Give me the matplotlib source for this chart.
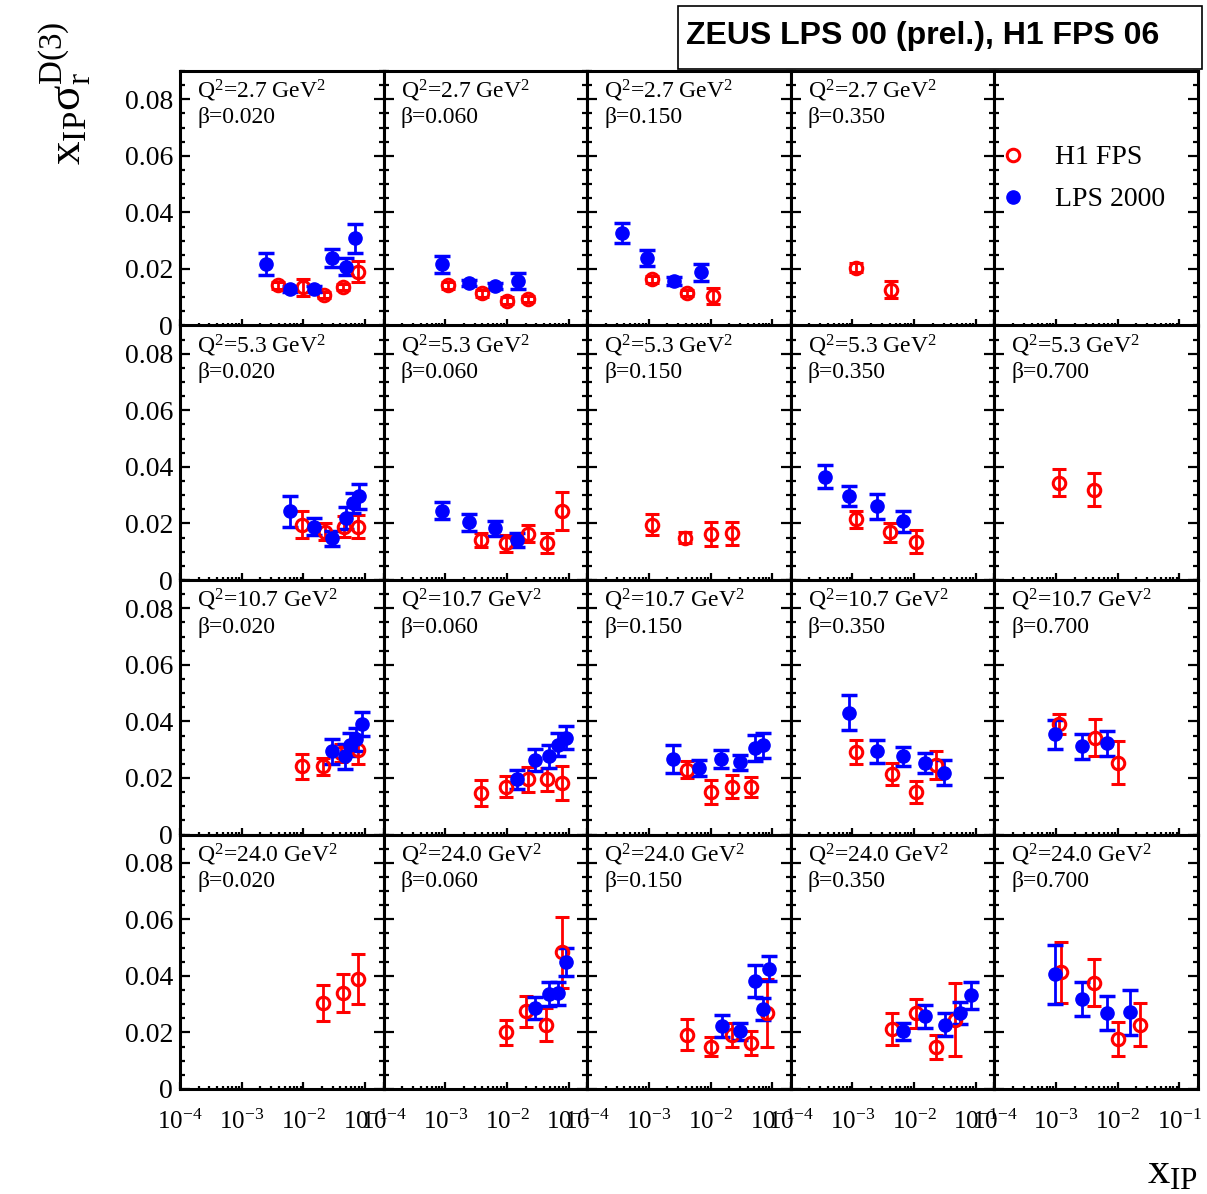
import matplotlib
matplotlib.use("Agg")
import matplotlib.pyplot as plt
from matplotlib.lines import Line2D
from matplotlib.patches import Rectangle
from matplotlib.ticker import MultipleLocator, LogLocator, NullFormatter, FuncFormatter

plt.rcParams.update({
    "font.family": ["Liberation Serif", "DejaVu Serif"],
    "mathtext.fontset": "custom",
    "mathtext.rm": "Liberation Serif",
    "mathtext.it": "Liberation Serif:italic",
    "mathtext.bf": "Liberation Serif:bold",
})

q2_labels = ["2.7", "5.3", "10.7", "24.0"]
beta_labels = ["0.020", "0.060", "0.150", "0.350", "0.700"]

# H1 FPS points, one list per beta column: (x_IP, x_IP*sigma_r, error)
h1_q2_2p7 = [
    [(3.9e-3, 0.0142, 0.0012), (9.8e-3, 0.0136, 0.003), (0.022, 0.0108, 0.0012),
     (0.044, 0.0136, 0.0012), (0.077, 0.019, 0.0037)],
    [(1.1e-3, 0.0142, 0.0012), (3.9e-3, 0.0114, 0.0012), (0.010, 0.0088, 0.0012),
     (0.0216, 0.0094, 0.0012)],
    [(1.13e-3, 0.0163, 0.0012), (4.1e-3, 0.0115, 0.0012), (0.011, 0.0104, 0.0028)],
    [(1.13e-3, 0.0205, 0.0015), (4.2e-3, 0.0126, 0.003)],
    [],
]
h1_q2_5p3 = [
    [(9.5e-3, 0.0195, 0.0048), (0.0221, 0.0171, 0.003), (0.0457, 0.0189, 0.0036),
     (0.0775, 0.0189, 0.004)],
    [(3.8e-3, 0.0142, 0.0025), (9.6e-3, 0.013, 0.003), (0.0217, 0.0163, 0.003),
     (0.0449, 0.013, 0.0035), (0.078, 0.0243, 0.0067)],
    [(1.14e-3, 0.0195, 0.0037), (3.9e-3, 0.015, 0.002), (0.0102, 0.0163, 0.0043),
     (0.0222, 0.0165, 0.004)],
    [(1.14e-3, 0.0215, 0.003), (4.1e-3, 0.0168, 0.0034), (0.0108, 0.0136, 0.0042)],
    [(1.1e-3, 0.0344, 0.0047), (4.16e-3, 0.032, 0.0057)],
]
h1_q2_10p7 = [
    [(9.5e-3, 0.0241, 0.0043), (0.0211, 0.0241, 0.003), (0.0407, 0.0288, 0.0033),
     (0.0775, 0.030, 0.005)],
    [(3.8e-3, 0.0148, 0.0046), (9.6e-3, 0.0169, 0.0038), (0.0217, 0.0195, 0.0043),
     (0.045, 0.0195, 0.004), (0.078, 0.0181, 0.006)],
    [(4.1e-3, 0.0229, 0.003), (0.0102, 0.0151, 0.0042), (0.0222, 0.0169, 0.004),
     (0.0455, 0.0169, 0.0036)],
    [(1.14e-3, 0.0291, 0.0043), (4.33e-3, 0.0215, 0.0039), (0.0106, 0.0151, 0.0038),
     (0.0223, 0.0247, 0.005)],
    [(1.12e-3, 0.039, 0.0036), (4.2e-3, 0.0342, 0.0065), (0.010, 0.0253, 0.0076)],
]
h1_q2_24 = [
    [(0.0211, 0.0305, 0.0064), (0.0437, 0.034, 0.0068), (0.0775, 0.039, 0.0089)],
    [(9.6e-3, 0.020, 0.0043), (0.0207, 0.0275, 0.0054), (0.0427, 0.0228, 0.006),
     (0.078, 0.0483, 0.0125)],
    [(4.1e-3, 0.0192, 0.0054), (0.0102, 0.015, 0.0034), (0.0222, 0.0192, 0.0043),
     (0.0455, 0.0162, 0.0043), (0.083, 0.0269, 0.012)],
    [(4.33e-3, 0.0212, 0.0055), (0.0106, 0.0267, 0.0053), (0.0223, 0.0148, 0.0043),
     (0.046, 0.0245, 0.013)],
    [(1.2e-3, 0.0412, 0.0107), (4.06e-3, 0.0376, 0.0083), (0.010, 0.0176, 0.006),
     (0.023, 0.0228, 0.0075)],
]

# ZEUS LPS 2000 points
lps_q2_2p7 = [
    [(2.46e-3, 0.0217, 0.004), (6.1e-3, 0.013, 0.001), (0.0151, 0.0128, 0.001),
     (0.0295, 0.0239, 0.0033), (0.050, 0.0207, 0.003), (0.068, 0.0308, 0.005)],
    [(8.9e-4, 0.0217, 0.003), (2.45e-3, 0.015, 0.001), (6.45e-3, 0.0139, 0.001),
     (0.0149, 0.0157, 0.0028)],
    [(3.7e-4, 0.0326, 0.0036), (9.2e-4, 0.0239, 0.0029), (2.56e-3, 0.0157, 0.0015),
     (6.9e-3, 0.0189, 0.003)],
    [],
    [],
]
lps_q2_5p3 = [
    [(6.1e-3, 0.0243, 0.0054), (0.0147, 0.0189, 0.003), (0.0295, 0.0148, 0.0027),
     (0.049, 0.0219, 0.004), (0.0627, 0.0272, 0.0035), (0.079, 0.0296, 0.0045)],
    [(8.9e-4, 0.0245, 0.003), (2.46e-3, 0.0204, 0.003), (6.45e-3, 0.0183, 0.0027),
     (0.0148, 0.0142, 0.0024)],
    [],
    [(3.6e-4, 0.0365, 0.004), (8.9e-4, 0.0296, 0.0035), (2.5e-3, 0.026, 0.0043),
     (6.5e-3, 0.0207, 0.0037)],
    [],
]
lps_q2_10p7 = [
    [(0.0295, 0.0294, 0.0044), (0.048, 0.0276, 0.0045), (0.058, 0.0318, 0.004),
     (0.071, 0.0336, 0.004), (0.09, 0.039, 0.0043)],
    [(0.0148, 0.0195, 0.0034), (0.0283, 0.0265, 0.0039), (0.048, 0.0276, 0.004),
     (0.066, 0.0318, 0.004), (0.089, 0.0342, 0.004)],
    [(2.5e-3, 0.0267, 0.005), (6.6e-3, 0.0235, 0.0027), (0.0148, 0.0267, 0.0033),
     (0.0296, 0.0255, 0.0027), (0.052, 0.0306, 0.0047), (0.071, 0.0315, 0.0045)],
    [(8.9e-4, 0.0431, 0.0062), (2.5e-3, 0.0294, 0.004), (6.6e-3, 0.0276, 0.0034),
     (0.0151, 0.0253, 0.0036), (0.030, 0.0219, 0.0043)],
    [(9.5e-4, 0.0354, 0.005), (2.6e-3, 0.0312, 0.0045), (6.6e-3, 0.0322, 0.0045)],
]
lps_q2_24 = [
    [],
    [(0.0283, 0.0287, 0.0039), (0.048, 0.0335, 0.0043), (0.066, 0.0338, 0.0042),
     (0.089, 0.045, 0.005)],
    [(0.0155, 0.0224, 0.0039), (0.0296, 0.0204, 0.003), (0.052, 0.0382, 0.0055),
     (0.071, 0.0283, 0.0039), (0.090, 0.0426, 0.0045)],
    [(6.6e-3, 0.0204, 0.003), (0.0151, 0.0257, 0.004), (0.0317, 0.0228, 0.004),
     (0.0547, 0.0269, 0.004), (0.083, 0.0331, 0.0048)],
    [(9.5e-4, 0.0406, 0.0105), (2.6e-3, 0.0319, 0.006), (6.6e-3, 0.0269, 0.006),
     (0.016, 0.0271, 0.008)],
]

h1_rows = [h1_q2_2p7, h1_q2_5p3, h1_q2_10p7, h1_q2_24]
lps_rows = [lps_q2_2p7, lps_q2_5p3, lps_q2_10p7, lps_q2_24]

H1_STYLE = dict(fmt="o", color="red", mfc="none", mec="red", ms=9, mew=2.2,
                elinewidth=2, capsize=5, capthick=2)
LPS_STYLE = dict(fmt="o", color="blue", mec="blue", ms=9.5,
                 elinewidth=2, capsize=6, capthick=2.5)


def draw_points(ax, points, style):
    if not points:
        return
    x, y, e = zip(*points)
    ax.errorbar(x, y, yerr=e, **style)


W, H = 1207, 1194
fig = plt.figure(figsize=(W / 100, H / 100), dpi=100)

left, top = 180, 71
pw, ph = 203.6, 254.5

for r in range(4):
    for c in range(5):
        ax = fig.add_axes([(left + c * pw) / W, 1 - (top + (r + 1) * ph) / H, pw / W, ph / H])
        ax.set_xscale("log")
        ax.set_xlim(1e-4, 0.2)
        ax.set_ylim(0, 0.09)

        draw_points(ax, h1_rows[r][c], H1_STYLE)
        draw_points(ax, lps_rows[r][c], LPS_STYLE)

        for s in ax.spines.values():
            s.set_linewidth(2.2)
        ax.yaxis.set_major_locator(MultipleLocator(0.02))
        ax.yaxis.set_minor_locator(MultipleLocator(0.005))
        ax.xaxis.set_major_locator(LogLocator(base=10, numticks=10))
        ax.xaxis.set_minor_locator(LogLocator(base=10, subs=range(2, 10), numticks=20))
        ax.xaxis.set_minor_formatter(NullFormatter())
        ax.tick_params(axis="y", which="both", direction="in", left=True, right=True, width=1.6)
        ax.tick_params(axis="y", which="major", length=7)
        ax.tick_params(axis="y", which="minor", length=3.6)
        ax.tick_params(axis="x", which="both", direction="in", bottom=True, top=False, width=1.6)
        ax.tick_params(axis="x", which="major", length=5, labelsize=18, pad=15)
        ax.tick_params(axis="x", which="minor", length=2.5)

        if c == 0:
            ax.yaxis.set_major_formatter(FuncFormatter(lambda v, p: "0" if abs(v) < 1e-9 else f"{v:.2f}"))
            ax.tick_params(axis="y", labelsize=20, pad=5)
        else:
            ax.set_yticklabels([])
        if r != 3:
            ax.set_xticklabels([])

        if r == 0 and c == 4:
            handles = [
                Line2D([], [], marker="o", ls="none", color="red", mfc="none", ms=9, mew=2.2),
                Line2D([], [], marker="o", ls="none", color="blue", ms=9.5),
            ]
            ax.legend(handles, ["H1 FPS", "LPS 2000"], loc="upper left",
                      bbox_to_anchor=(0.025, 0.71), frameon=False, fontsize=20,
                      handlelength=1.0, handletextpad=1.0, labelspacing=0.6,
                      borderpad=0, borderaxespad=0)
        else:
            ax.text(17 / pw, 1 - 20 / ph, f"Q$^{{2}}$={q2_labels[r]} GeV$^{{2}}$",
                    transform=ax.transAxes, va="center", ha="left", fontsize=17)
            ax.text(17 / pw, 1 - 47 / ph, f"\u03b2={beta_labels[c]}",
                    transform=ax.transAxes, va="center", ha="left", fontsize=17)

# title box
fig.add_artist(Rectangle((678 / W, 1 - 69 / H), (1202 - 678) / W, (69 - 6) / H,
                         transform=fig.transFigure, facecolor="white",
                         edgecolor="black", linewidth=1.2))
fig.text(686 / W, 1 - 36 / H, "ZEUS LPS 00 (prel.), H1 FPS 06",
         family="Liberation Sans", weight="bold", fontsize=23, va="center", ha="left")

# axis titles
fig.text(66 / W, 1 - 22 / H, "$\\mathrm{x}_{\\mathrm{IP}}\\mathrm{\u03c3}_{\\mathrm{r}}^{\\mathrm{D(3)}}$",
         rotation=90, ha="center", va="top", fontsize=34)
fig.text(1198 / W, 2 / H, r"$\mathrm{x}_{\mathrm{IP}}$", ha="right", va="bottom", fontsize=32)

fig.savefig("out.png", dpi=100)
